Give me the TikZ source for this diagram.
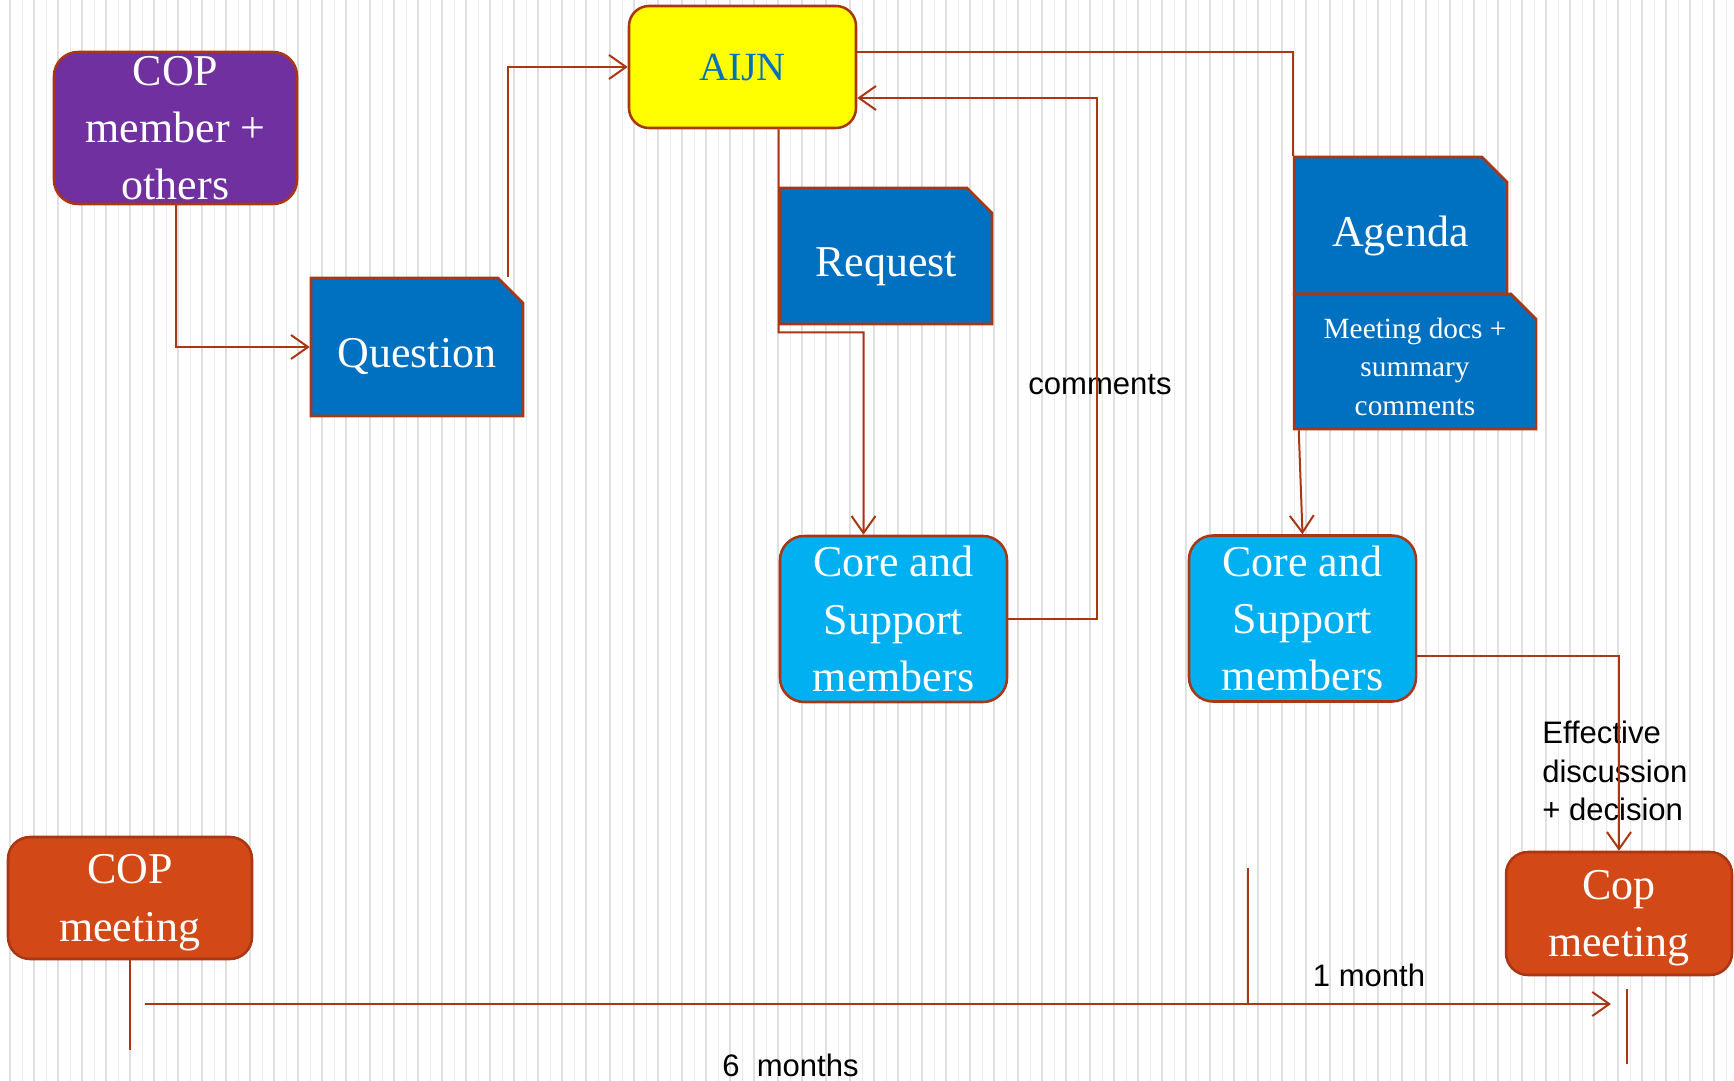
\documentclass[tikz,border=0pt]{standalone}
\usepackage{fontspec}
\setmainfont{Liberation Serif}
\newfontfamily\labelfont{Liberation Sans}
\usetikzlibrary{arrows.meta,shapes.misc,calc}

\definecolor{linered}{RGB}{170,55,20}
\definecolor{copviolet}{RGB}{112,48,160}
\definecolor{docblue}{RGB}{0,112,192}
\definecolor{corecyan}{RGB}{0,176,240}
\definecolor{meetorange}{RGB}{210,72,23}
\definecolor{aijnyellow}{RGB}{255,255,0}
\definecolor{stripegray}{RGB}{224,224,224}
\definecolor{stripelight}{RGB}{234,234,234}

\newdimen\pxu \pxu=0.75pt

\tikzset{
  box/.style={draw=linered, line width=1.9pt, rounded corners=24\pxu, text=white,
    inner sep=0pt, align=center, font=\fontsize{33}{43}\selectfont},
  meetbox/.style={box, fill=meetorange, rounded corners=22\pxu, text depth=0pt},
  docbox/.style={chamfered rectangle, chamfered rectangle corners=north east,
    chamfered rectangle sep=12.5\pxu, draw=linered, line width=1.9pt, fill=docblue,
    text=white, inner sep=0pt, align=center, text height=31pt, text depth=0pt,
    font=\fontsize{33}{43}\selectfont},
  conn/.style={draw=linered, line width=1.5pt},
  lbl/.style={font=\labelfont\fontsize{23.3}{29}\selectfont, inner sep=0pt, align=left},
}

\begin{document}
\begin{tikzpicture}[x=0.75pt,y=0.75pt,yscale=-1,xscale=1,
  >={Straight Barb[length=12.75pt,width=18pt]}]
\useasboundingbox (0,0) rectangle (1734,1081);

% striped background
\fill[white] (0,0) rectangle (1734,1081);
\foreach \sx in {0,...,72} {
  \draw[stripegray, line width=1.3pt] (10+24*\sx,0) -- (10+24*\sx,1081);
  \draw[stripelight, line width=0.75pt] (22+24*\sx,0) -- (22+24*\sx,1081);
}

% boxes
\node[box, fill=copviolet, minimum width=243\pxu, minimum height=152\pxu] (copmember) at (175.5,128) {COP\\member +\\others};
\node[box, fill=aijnyellow, text=docblue, rounded corners=20\pxu, minimum width=227\pxu, minimum height=122\pxu,
  font=\fontsize{30}{36}\selectfont] (aijn) at (742.5,67) {AIJN};
\node[docbox, minimum width=212\pxu, minimum height=138\pxu] (question) at (417,347) {Question};
\node[docbox, minimum width=212\pxu, minimum height=136\pxu] (request) at (886,256) {Request};
\node[docbox, minimum width=213\pxu, minimum height=137\pxu] (agenda) at (1400.5,225.5) {Agenda};
\node[docbox, minimum width=242\pxu, minimum height=135\pxu, text height=81pt,
  font=\fontsize{22}{29}\selectfont] (meetdocs) at (1415,361.5) {Meeting docs +\\summary\\comments};
\node[box, fill=corecyan, minimum width=227\pxu, minimum height=166\pxu] (corereq) at (893.5,619) {Core and\\Support\\members};
\node[box, fill=corecyan, minimum width=227\pxu, minimum height=166\pxu] (coreagenda) at (1302.5,618.5) {Core and\\Support\\members};
\node[meetbox, minimum width=244\pxu, minimum height=122\pxu] (copmeeting) at (130,898) {COP\\meeting};
\node[meetbox, minimum width=226\pxu, minimum height=123\pxu] (copnext) at (1619,913.5) {Cop\\meeting};

% labels
\node[lbl] (commentslbl) at (1100,385) {comments};
\node[lbl, anchor=west] (effectlbl) at (1542,771) {Effective\\discussion\\+ decision};
\node[lbl] (monthlbl) at (1369,975) {1 month};
\node[lbl, anchor=west] (sixlbl) at (722,1065) {6\ \ months};

% timeline points
\coordinate (tstart) at (145,1004);
\coordinate (tend) at (1611,1004);
\coordinate (tmark) at (1248,868);
\coordinate (tnext) at (1627,989);
\coordinate (commentturn) at (1097,98);

% connectors
\draw[conn,->] (copmember.south) |- (question.west);
\draw[conn,->] ($(question.north)+(91,0)$) |- (aijn.west);
\draw[conn,->] (request.west |- aijn.south) -- ($(request.south west)+(0,7)$) -| ($(corereq.north)+(-30,0)$);
\draw[conn,->] (corereq.east) -| (commentturn) -- (commentturn -| aijn.east);
\draw[conn] ($(aijn.east)+(0,-15)$) -| (agenda.north west);
\draw[conn,->] ($(meetdocs.south west)+(6,0)$) -- (coreagenda.north);
\draw[conn,->] ($(coreagenda.east)+(0,37.5)$) -| (copnext.north);
\draw[conn,->] (tstart) -- (tend);
\draw[conn] (copmeeting.south) -- ++(0,90);
\draw[conn] (tmark) -- (tmark |- tstart);
\draw[conn] (tnext) -- ++(0,75);
\end{tikzpicture}
\end{document}
